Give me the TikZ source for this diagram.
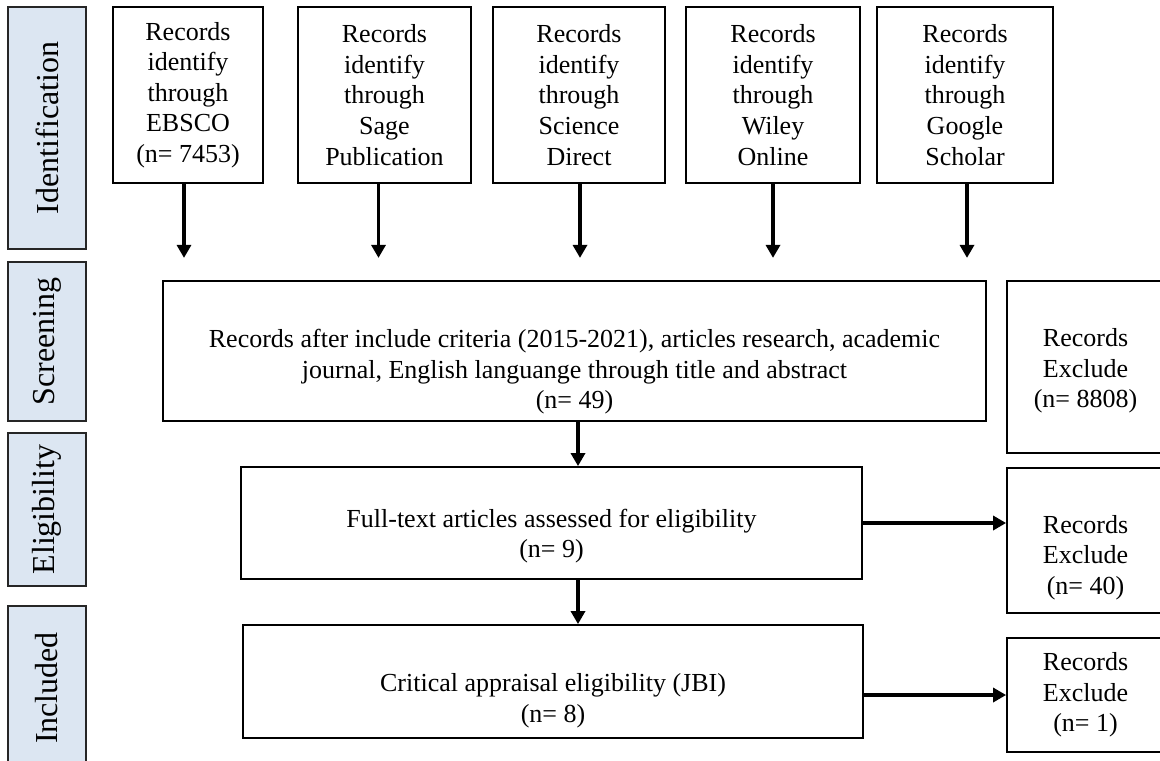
\documentclass[tikz,border=0pt]{standalone}
\usepackage{fontspec}
\setmainfont{Liberation Serif}
\usetikzlibrary{arrows.meta,positioning}
\definecolor{stagefill}{RGB}{220,230,242}

\begin{document}
\begin{tikzpicture}[x=0.5pt,y=-0.5pt,>={Triangle[length=6.5pt,width=7pt]},
  font=\fontsize{13}{15.3}\selectfont,
  b/.style={draw,line width=0.9pt,inner sep=0pt,align=center},
  src/.style={b,minimum height=88pt},
  excl/.style={b,minimum width=78.5pt},
  stage/.style={draw=black!85,fill=stagefill,line width=0.9pt,minimum height=39pt,
    inner sep=0pt,rotate=90,font=\fontsize{16}{18}\selectfont},
  t/.style={align=center,inner sep=0pt},
  arr/.style={->,line width=1.6pt}]
\useasboundingbox (0,0) rectangle (1160,760);
\clip (0,0) rectangle (1160,760);
% stages on the left
\node[stage,minimum width=121pt] (ident) at (47,128) {Identification};
\node[stage,minimum width=79.5pt] (scr) at (47,341.5) {Screening};
\node[stage,minimum width=76.5pt] (elg) at (47,509.5) {Eligibility};
\node[stage,minimum width=82pt] (inc) at (47,688) {Included};
% databases
\node[src,minimum width=75pt] (src1) at (188,95) {Records\\identify\\through\\EBSCO\\(n= 7453)};
\node[src,minimum width=86.5pt] (src2) at (384.5,95) {Records\\identify\\through\\Sage\\Publication};
\node[src,minimum width=86pt] (src3) at (579,95) {Records\\identify\\through\\Science\\Direct};
\node[src,minimum width=87pt] (src4) at (773,95) {Records\\identify\\through\\Wiley\\Online};
\node[src,minimum width=88pt] (src5) at (965,95) {Records\\identify\\through\\Google\\Scholar};
\foreach \i/\dx in {1/-2,2/-3,3/0.5,4/0,5/1}
  \draw[arr] ([xshift=\dx pt]src\i.south) -- ++(0,74);
% main flow
\node[b,minimum width=411.5pt,minimum height=70pt] (screen) at (574.5,351) {};
\node[t] (screentxt) at ([yshift=-10.5pt]screen.center)
  {Records after include criteria (2015-2021), articles research, academic\\
   journal, English languange through title and abstract\\(n= 49)};
\node[b,minimum width=310.5pt,minimum height=56pt] (elig) at (551.5,523) {};
\node[t] (eligtxt) at ([yshift=-6.5pt]elig.center) {Full-text articles assessed for eligibility\\(n= 9)};
\node[b,minimum width=310pt,minimum height=56.5pt] (incl) at (553,681.5) {};
\node[t] (incltxt) at ([yshift=-9.5pt]incl.center) {Critical appraisal eligibility (JBI)\\(n= 8)};
% excluded
\node[excl,minimum height=86pt] (ex1) at (1085.5,367) {};
\node[t] (ex1txt) at ([yshift=-2pt]ex1.center) {Records\\Exclude\\(n= 8808)};
\node[excl,minimum height=72.5pt] (ex2) at (1085.5,540.5) {};
\node[t] (ex2txt) at ([yshift=-8.5pt]ex2.center) {Records\\Exclude\\(n= 40)};
\node[excl,minimum height=57pt] (ex3) at (1085.5,695) {Records\\Exclude\\(n= 1)};
% arrows
\coordinate (mid) at (578,0);
\draw[arr] (mid |- screen.south) -- (mid |- elig.north);
\draw[arr] (mid |- elig.south) -- (mid |- incl.north);
\draw[arr] (elig.east) -- (ex2.west |- elig.east);
\draw[arr] (incl.east |- ex3.west) -- (ex3.west);
\end{tikzpicture}
\end{document}
